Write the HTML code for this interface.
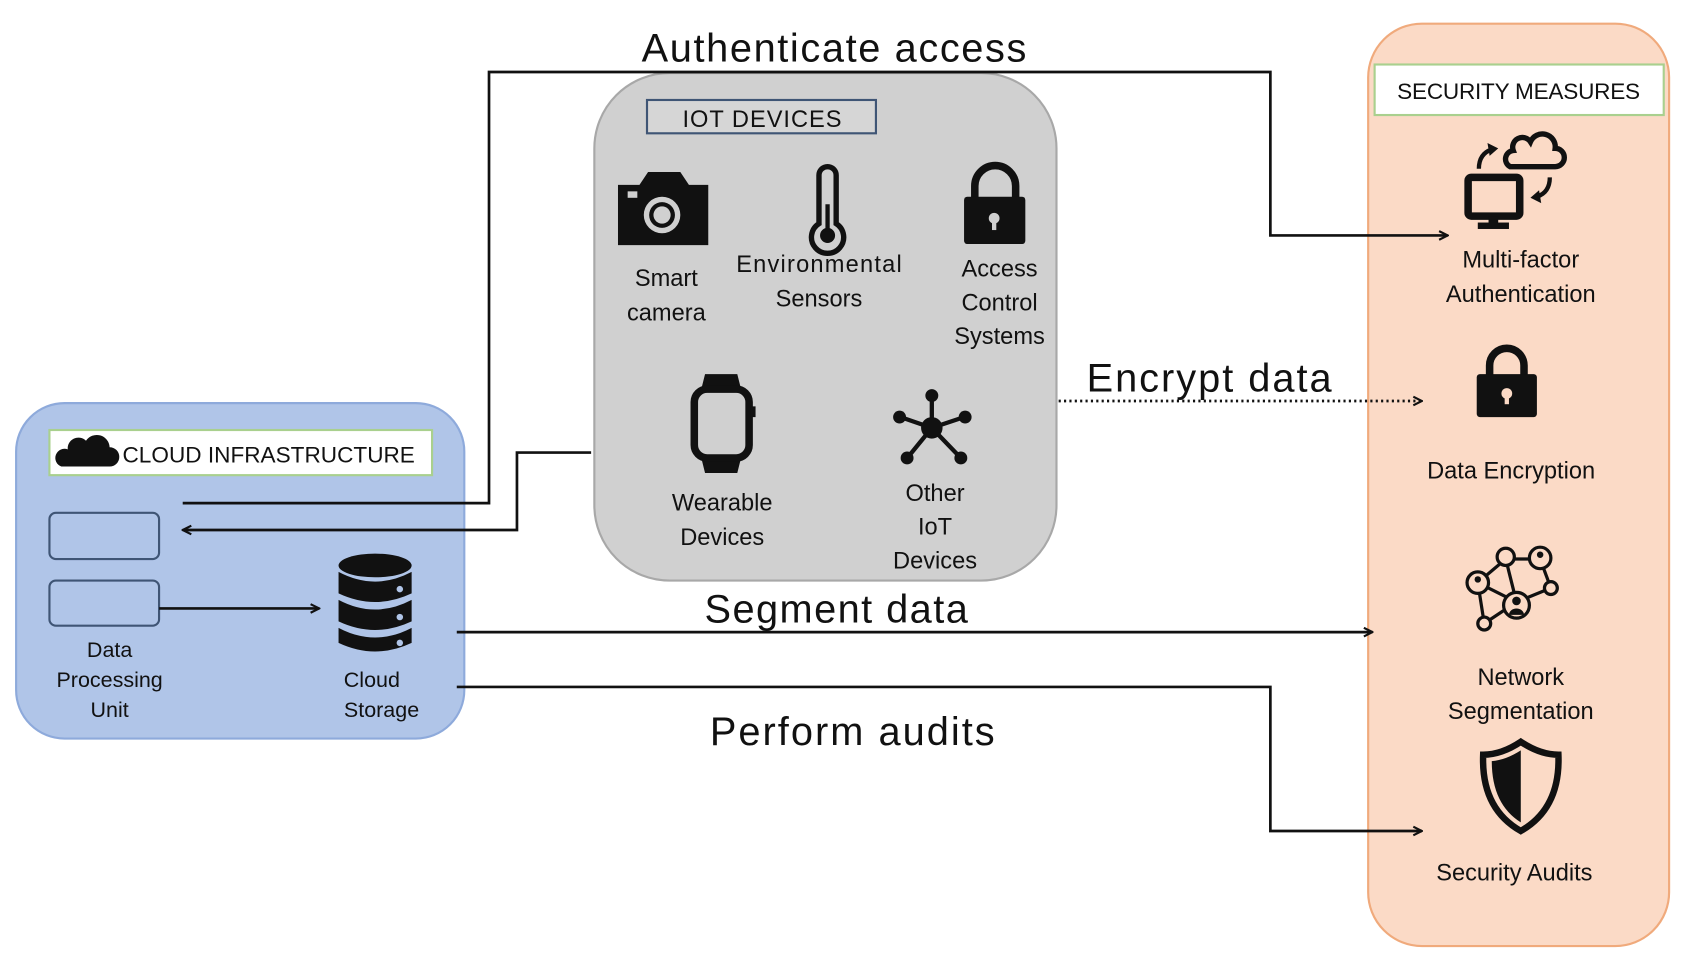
<!DOCTYPE html>
<html><head><meta charset="utf-8"><style>
html,body{margin:0;padding:0;background:#fff;}
svg{display:block;}
text{font-family:"Liberation Sans","DejaVu Sans",sans-serif;fill:#111;}
</style></head><body>
<svg width="1682" height="960" viewBox="0 0 1565 893" preserveAspectRatio="none" xmlns="http://www.w3.org/2000/svg">
<defs>
<marker id="ah" markerWidth="10" markerHeight="10" refX="9" refY="5" orient="auto" markerUnits="userSpaceOnUse">
<path d="M1,1 L9,5 L1,9" fill="none" stroke="#111" stroke-width="2"/>
</marker>
</defs>
<!-- Cloud infra -->
<rect x="15" y="375" width="417" height="312" rx="45" fill="#b0c5e8" stroke="#8eaadb" stroke-width="2"/>
<rect x="46" y="400" width="356" height="42" fill="#fff" stroke="#a9d08e" stroke-width="2"/>
<path d="M57,434 h45 a9,9 0 0 0 0,-18 a12,12 0 0 0 -22,-6 a10,10 0 0 0 -17,8 a8,8 0 0 0 -6,16z" fill="#111"/>
<text x="114" y="430" font-size="21" textLength="272">CLOUD INFRASTRUCTURE</text>
<rect x="46" y="477" width="102" height="43" rx="6" fill="#b0c5e8" stroke="#3f5575" stroke-width="2"/>
<rect x="46" y="540" width="102" height="42" rx="6" fill="#b0c5e8" stroke="#3f5575" stroke-width="2"/>
<text font-size="20" text-anchor="middle"><tspan x="102" y="611">Data</tspan><tspan x="102" y="639">Processing</tspan><tspan x="102" y="667">Unit</tspan></text>
<text font-size="20" text-anchor="middle"><tspan x="346" y="639">Cloud</tspan><tspan x="355" y="667">Storage</tspan></text>
<!-- DB icon -->
<g fill="#111">
<ellipse cx="349" cy="526" rx="34" ry="11"/>
<path d="M315,532 q34,18 68,0 v20 q-34,16 -68,0z"/>
<path d="M315,558 q34,18 68,0 v20 q-34,16 -68,0z"/>
<path d="M315,584 q34,18 68,0 v14 q-34,16 -68,0z"/>
<circle cx="372" cy="548" r="3" fill="#b0c5e8"/><circle cx="372" cy="574" r="3" fill="#b0c5e8"/><circle cx="372" cy="598" r="3" fill="#b0c5e8"/>
</g>
<line x1="148" y1="566" x2="297" y2="566" stroke="#111" stroke-width="2.5" marker-end="url(#ah)"/>
<!-- IoT -->
<rect x="553" y="68" width="430" height="472" rx="70" fill="#d0d0d0" stroke="#a8a8a8" stroke-width="2"/>
<rect x="602" y="93" width="213" height="31" fill="#d6d6d6" stroke="#3f5575" stroke-width="2"/>
<text x="709" y="118" font-size="22" text-anchor="middle" textLength="148">IOT DEVICES</text>
<!-- camera -->
<path d="M575,172 h20 l8,-12 h30 l8,12 h18 v56 h-84z" fill="#111"/>
<circle cx="616" cy="200" r="17" fill="#d0d0d0"/><circle cx="616" cy="200" r="12" fill="#111"/><circle cx="616" cy="200" r="8" fill="#d0d0d0"/>
<rect x="584" y="178" width="9" height="6" fill="#d0d0d0"/>
<!-- thermometer -->
<path d="M762,163 a8,8 0 0 1 16,0 v45 a15,15 0 1 1 -16,0z" fill="none" stroke="#111" stroke-width="5"/>
<circle cx="770" cy="219" r="7" fill="#111"/><line x1="770" y1="190" x2="770" y2="215" stroke="#111" stroke-width="4"/>
<!-- lock -->
<path d="M907,185 v-12 a19,19 0 0 1 38,0 v12" fill="none" stroke="#111" stroke-width="7"/>
<rect x="897" y="183" width="57" height="44" rx="3" fill="#111"/>
<circle cx="925" cy="203" r="5" fill="#d0d0d0"/><rect x="923" y="204" width="4" height="10" fill="#d0d0d0"/>
<text font-size="22" text-anchor="middle"><tspan x="620" y="266">Smart</tspan><tspan x="620" y="298">camera</tspan></text>
<text font-size="22" text-anchor="middle"><tspan x="762" y="253" textLength="154">Environmental</tspan><tspan x="762" y="285">Sensors</tspan></text>
<text font-size="22" text-anchor="middle"><tspan x="930" y="257">Access</tspan><tspan x="930" y="289">Control</tspan><tspan x="930" y="320">Systems</tspan></text>
<!-- watch -->
<path d="M656,348 h30 l4,16 h-38z M652,424 h38 l-4,16 h-30z" fill="#111"/>
<rect x="646" y="362" width="51" height="64" rx="12" fill="none" stroke="#111" stroke-width="7"/>
<rect x="698" y="378" width="5" height="10" fill="#111"/>
<!-- network -->
<g stroke="#111" stroke-width="4"><line x1="867" y1="398" x2="867" y2="368"/><line x1="867" y1="398" x2="838" y2="388"/><line x1="867" y1="398" x2="897" y2="388"/><line x1="867" y1="398" x2="845" y2="425"/><line x1="867" y1="398" x2="893" y2="425"/></g>
<g fill="#111"><circle cx="867" cy="398" r="10"/><circle cx="867" cy="368" r="6"/><circle cx="837" cy="388" r="6"/><circle cx="898" cy="388" r="6"/><circle cx="844" cy="426" r="6"/><circle cx="894" cy="426" r="6"/></g>
<text font-size="22" text-anchor="middle"><tspan x="672" y="475">Wearable</tspan><tspan x="672" y="507">Devices</tspan></text>
<text font-size="22" text-anchor="middle"><tspan x="870" y="466">Other</tspan><tspan x="870" y="497">IoT</tspan><tspan x="870" y="529">Devices</tspan></text>
<!-- Security -->
<rect x="1273" y="22" width="280" height="858" rx="50" fill="#fbdac6" stroke="#f0aa7c" stroke-width="2"/>
<rect x="1279" y="60" width="269" height="47" fill="#fff" stroke="#a9d08e" stroke-width="2"/>
<text x="1413" y="92" font-size="21" text-anchor="middle" textLength="226">SECURITY MEASURES</text>
<!-- MFA icon -->
<rect x="1366" y="165" width="48" height="36" rx="3" fill="none" stroke="#111" stroke-width="7"/>
<rect x="1385" y="201" width="9" height="7" fill="#111"/><rect x="1375" y="207" width="29" height="6" fill="#111"/>
<path d="M1405,155 h42 a8,8 0 0 0 0,-17 a12,12 0 0 0 -23,-6 a9,9 0 0 0 -16,8 a8,8 0 0 0 -3,15z" fill="none" stroke="#111" stroke-width="5"/>
<path d="M1376,157 q0,-14 12,-18" fill="none" stroke="#111" stroke-width="4"/><path d="M1384,133 l10,5 -8,7z" fill="#111"/>
<path d="M1442,165 q0,14 -12,18" fill="none" stroke="#111" stroke-width="4"/><path d="M1434,189 l-10,-5 8,-7z" fill="#111"/>
<text font-size="22" text-anchor="middle"><tspan x="1415" y="249">Multi-factor</tspan><tspan x="1415" y="281">Authentication</tspan></text>
<!-- lock -->
<path d="M1386,350 v-10 a16,16 0 0 1 32,0 v10" fill="none" stroke="#111" stroke-width="7"/>
<rect x="1374" y="348" width="56" height="40" rx="3" fill="#111"/>
<circle cx="1402" cy="366" r="5" fill="#fbdac6"/><rect x="1400" y="367" width="4" height="9" fill="#fbdac6"/>
<text x="1406" y="445" font-size="22" text-anchor="middle">Data Encryption</text>
<!-- network seg -->
<g stroke="#111" stroke-width="3" fill="none"><line x1="1401" y1="520" x2="1433" y2="520"/><line x1="1401" y1="520" x2="1375" y2="542"/><line x1="1401" y1="520" x2="1411" y2="560"/><line x1="1433" y1="520" x2="1443" y2="547"/><line x1="1443" y1="547" x2="1411" y2="560"/><line x1="1375" y1="542" x2="1411" y2="560"/><line x1="1375" y1="542" x2="1381" y2="580"/><line x1="1411" y1="560" x2="1381" y2="580"/></g>
<g fill="#fbdac6" stroke="#111" stroke-width="3"><circle cx="1401" cy="518" r="8"/><circle cx="1433" cy="519" r="10"/><circle cx="1443" cy="547" r="6"/><circle cx="1375" cy="542" r="10"/><circle cx="1411" cy="563" r="12"/><circle cx="1381" cy="580" r="6"/></g>
<g fill="#111"><circle cx="1433" cy="516" r="3"/><circle cx="1375" cy="539" r="3"/><circle cx="1411" cy="559" r="4"/><path d="M1404,572 a7,6 0 0 1 14,0z"/></g>
<text font-size="22" text-anchor="middle"><tspan x="1415" y="637">Network</tspan><tspan x="1415" y="669">Segmentation</tspan></text>
<!-- shield -->
<path d="M1415,690 q18,12 35,12 q2,50 -35,71 q-37,-21 -35,-71 q17,0 35,-12z" fill="none" stroke="#111" stroke-width="6"/>
<path d="M1415,698 q-14,9 -27,10 q0,40 27,57z" fill="#111"/>
<text x="1409" y="819" font-size="22" text-anchor="middle">Security Audits</text>
<!-- connectors -->
<g fill="none" stroke="#111" stroke-width="2.5">
<polyline points="170,468 455,468 455,67 1182,67 1182,219 1347,219" marker-end="url(#ah)"/>
<polyline points="550,421 481,421 481,493 170,493" marker-end="url(#ah)"/>
<line x1="425" y1="588" x2="1277" y2="588" marker-end="url(#ah)"/>
<polyline points="425,639 1182,639 1182,773 1323,773" marker-end="url(#ah)"/>
<line x1="985" y1="373" x2="1323" y2="373" stroke-dasharray="2,3" marker-end="url(#ah)"/>
</g>
<text x="776" y="57" font-size="37" text-anchor="middle" textLength="358">Authenticate access</text>
<text x="1125" y="364" font-size="37" text-anchor="middle" textLength="228">Encrypt data</text>
<text x="778" y="579" font-size="37" text-anchor="middle" textLength="245">Segment data</text>
<text x="793" y="693" font-size="37" text-anchor="middle" textLength="265">Perform audits</text>
</svg>
</body></html>
